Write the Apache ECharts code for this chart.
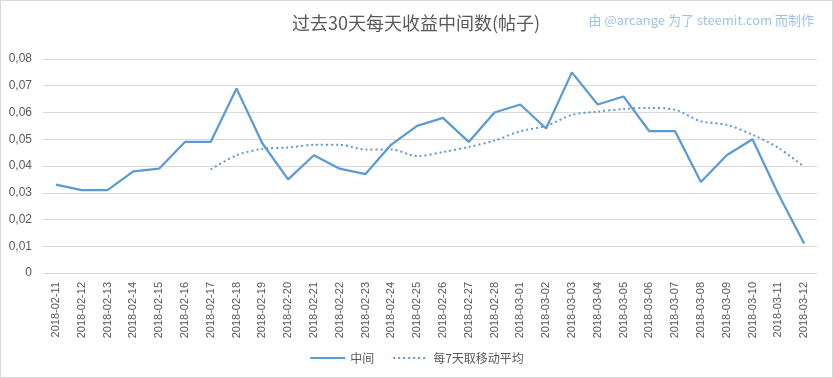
<!DOCTYPE html>
<html>
<head>
<meta charset="utf-8">
<script src="https://cdn.jsdelivr.net/npm/echarts@6/dist/echarts.min.js"></script>
<style>
    html, body { margin: 0; padding: 0; background: #fff; }
    #chart { width: 833px; height: 378px; box-sizing: border-box; border: 1px solid #d9d9d9; }
</style>
</head>
<body>
<div id="chart"></div>
<script>
var dates = [
    '2018-02-11', '2018-02-12', '2018-02-13', '2018-02-14', '2018-02-15', '2018-02-16',
    '2018-02-17', '2018-02-18', '2018-02-19', '2018-02-20', '2018-02-21', '2018-02-22',
    '2018-02-23', '2018-02-24', '2018-02-25', '2018-02-26', '2018-02-27', '2018-02-28',
    '2018-03-01', '2018-03-02', '2018-03-03', '2018-03-04', '2018-03-05', '2018-03-06',
    '2018-03-07', '2018-03-08', '2018-03-09', '2018-03-10', '2018-03-11', '2018-03-12'
];

// 中间
var median = [
    0.033, 0.031, 0.031, 0.038, 0.039, 0.049,
    0.049, 0.069, 0.0485, 0.035, 0.044, 0.039,
    0.037, 0.048, 0.055, 0.058, 0.049, 0.060,
    0.063, 0.054, 0.075, 0.063, 0.066, 0.053,
    0.053, 0.034, 0.044, 0.050, 0.0295, 0.011
];

// 每7天取移动平均 (前6天没有值)
var movingAvg = [
    '-', '-', '-', '-', '-', '-',
    0.0387, 0.0440, 0.0464, 0.0469, 0.0479, 0.0479,
    0.0462, 0.0462, 0.0437, 0.0452, 0.0471, 0.0495,
    0.0530, 0.0550, 0.0591, 0.0603, 0.0613, 0.0617,
    0.0610, 0.0567, 0.0554, 0.0517, 0.0468, 0.0397
];

var textColor = '#595959';
var lineColor = '#5b9bd5';
var fontFamily = '"Liberation Sans", "Noto Sans CJK SC", sans-serif';

var myChart = echarts.init(document.getElementById('chart'));
var option = {
    animation: false,
    textStyle: { fontFamily: fontFamily },
    title: [{
        text: '过去30天每天收益中间数(帖子)',
        left: 410,
        textAlign: 'center',
        top: 8,
        textStyle: {
            color: textColor,
            fontSize: 18,
            fontWeight: 'normal',
            fontFamily: '"Noto Sans CJK SC", sans-serif'
        }
    }, {
        text: '由 @arcange 为了 steemit.com 而制作',
        right: 13,
        top: 8,
        textStyle: {
            color: '#9dc3e6',
            fontSize: 13,
            fontWeight: 'normal',
            fontFamily: '"Noto Sans CJK SC", sans-serif'
        }
    }],
    legend: {
        bottom: 8,
        left: 'center',
        itemWidth: 35,
        itemHeight: 10,
        itemGap: 18,
        itemStyle: { opacity: 0 },
        textStyle: {
            color: textColor,
            fontSize: 12,
            fontFamily: '"Noto Sans CJK SC", sans-serif'
        },
        data: ['中间', '每7天取移动平均']
    },
    grid: {
        left: 42,
        right: 15,
        top: 58,
        bottom: 104
    },
    xAxis: {
        type: 'category',
        data: dates,
        boundaryGap: true,
        axisLine: { lineStyle: { color: '#d9d9d9' } },
        axisTick: { show: false },
        axisLabel: {
            interval: 0,
            rotate: 90,
            color: textColor,
            fontSize: 11,
            margin: 9
        }
    },
    yAxis: {
        type: 'value',
        min: 0,
        max: 0.08,
        interval: 0.01,
        axisLine: { show: false },
        axisTick: { show: false },
        splitLine: { lineStyle: { color: '#d9d9d9' } },
        axisLabel: {
            color: textColor,
            fontSize: 12,
            margin: 11,
            formatter: function (v) {
                if (v === 0) return '0';
                return v.toFixed(2).replace('.', ',');
            }
        }
    },
    series: [{
        name: '中间',
        type: 'line',
        data: median,
        symbol: 'none',
        lineStyle: { color: lineColor, width: 2.25 },
        itemStyle: { color: lineColor }
    }, {
        name: '每7天取移动平均',
        type: 'line',
        data: movingAvg,
        symbol: 'none',
        smooth: 0.3,
        lineStyle: { color: lineColor, width: 2, type: [2, 3] },
        itemStyle: { color: lineColor }
    }]
};
myChart.setOption(option);
</script>
</body>
</html>
